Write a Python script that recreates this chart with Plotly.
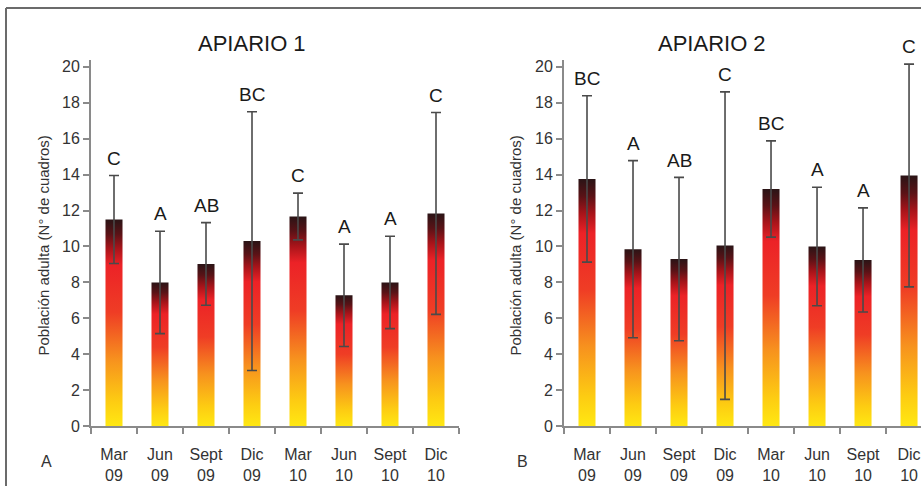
import plotly.graph_objects as go

# The captured picture is squeezed vertically (about 495 px of page -> 486 px),
# so the page is laid out 495 px tall and reference y positions are stretched.
W, H = 921, 495
SY = H / 486

categories = ["Mar<br>09", "Jun<br>09", "Sept<br>09", "Dic<br>09",
              "Mar<br>10", "Jun<br>10", "Sept<br>10", "Dic<br>10"]

ap1_mean = [11.5, 8.0, 9.03, 10.3, 11.67, 7.28, 8.0, 11.84]
ap1_err = [2.45, 2.85, 2.3, 7.2, 1.3, 2.85, 2.57, 5.62]
ap1_letters = ["C", "A", "AB", "BC", "C", "A", "A", "C"]

ap2_mean = [13.76, 9.85, 9.3, 10.05, 13.2, 10.0, 9.25, 13.95]
ap2_err = [4.63, 4.93, 4.55, 8.56, 2.68, 3.3, 2.9, 6.2]
ap2_letters = ["BC", "A", "AB", "C", "BC", "A", "A", "C"]

y_ticks = [0, 2, 4, 6, 8, 10, 12, 14, 16, 18, 20]

FONT = "Liberation Sans, Arial, sans-serif"
AXC = "#8a8a8a"
GRAD = [[0.0, "#FFE812"], [0.12, "#FDCC12"], [0.32, "#F7921E"],
        [0.55, "#EF3D25"], [0.78, "#EC2227"], [0.86, "#A8141A"],
        [0.93, "#5A1216"], [1.0, "#2A1416"]]
HALF = 0.185


def px(x):
    return x / W


def py(y):
    return (H - y * SY) / H


fig = go.Figure()


def add_panel(means, errs, letters, xa, ya):
    xref = "x" if xa == "x" else "x2"
    yref = "y" if ya == "y" else "y2"
    for i, v in enumerate(means):
        fig.add_trace(go.Scatter(
            x=[i - HALF, i + HALF, i + HALF, i - HALF, i - HALF],
            y=[0, 0, v, v, 0],
            mode="lines", line=dict(width=0), fill="toself",
            fillcolor="#EC2227",
            fillgradient=dict(type="vertical", colorscale=GRAD),
            xaxis=xa, yaxis=ya, hoverinfo="skip", showlegend=False))
    fig.add_trace(go.Scatter(
        x=list(range(len(means))), y=means, mode="markers",
        marker=dict(size=1, color="rgba(0,0,0,0)"),
        error_y=dict(type="data", array=errs, visible=True,
                     color="#4a4a4a", thickness=1.6, width=5),
        xaxis=xa, yaxis=ya, showlegend=False, hoverinfo="skip"))
    for i, (v, e, t) in enumerate(zip(means, errs, letters)):
        fig.add_annotation(x=i, y=v + e, xref=xref, yref=yref, text=t,
                           showarrow=False, xanchor="center",
                           yanchor="middle", yshift=17 * SY,
                           font=dict(size=19, color="#1a1a1a", family=FONT))


add_panel(ap1_mean, ap1_err, ap1_letters, "x", "y")
add_panel(ap2_mean, ap2_err, ap2_letters, "x2", "y2")

ydom = [py(426), py(58.8)]


def xaxis_cfg(dom, rng):
    return dict(domain=dom, range=rng, showline=True, linecolor=AXC,
                linewidth=2, showgrid=False, zeroline=False,
                tickmode="array", tickvals=list(range(len(categories))),
                ticktext=categories, ticks="outside", ticklen=13,
                tickcolor="rgba(0,0,0,0)",
                tickfont=dict(size=16, color="#333333", family=FONT),
                minor=dict(tickmode="array",
                           tickvals=[i - 0.5 for i in range(len(categories) + 1)],
                           ticks="outside", ticklen=6, tickwidth=2,
                           tickcolor=AXC, showgrid=False),
                fixedrange=True)


def yaxis_cfg(anchor):
    return dict(domain=ydom, range=[0, 20.4], anchor=anchor, showline=True,
                linecolor=AXC, linewidth=2, showgrid=False, zeroline=False,
                tickmode="array", tickvals=y_ticks, ticks="outside",
                ticklen=6, tickwidth=2, tickcolor=AXC,
                tickfont=dict(size=16, color="#333333", family=FONT),
                fixedrange=True)


fig.update_layout(
    width=W, height=H, margin=dict(l=0, r=0, t=0, b=0),
    paper_bgcolor="white", plot_bgcolor="white",
    xaxis=xaxis_cfg([px(91), px(459)], [-0.5, 7.5]),
    yaxis=yaxis_cfg("x"),
    xaxis2=dict(xaxis_cfg([px(564), 1.0], [-0.5, 7.26]), anchor="y2"),
    yaxis2=yaxis_cfg("x2"),
    showlegend=False, hovermode=False,
)

for txt, x in [("APIARIO 1", 252), ("APIARIO 2", 712)]:
    fig.add_annotation(x=px(x), y=py(43), xref="paper", yref="paper",
                       text=txt, showarrow=False, xanchor="center",
                       yanchor="middle",
                       font=dict(size=22, color="#1a1a1a", family=FONT))
for x in [43, 515]:
    fig.add_annotation(x=px(x), y=py(245), xref="paper", yref="paper",
                       text="Población adulta (N° de cuadros)", textangle=-90,
                       showarrow=False, xanchor="center", yanchor="middle",
                       font=dict(size=15, color="#333333", family=FONT))
for txt, x in [("A", 46), ("B", 522)]:
    fig.add_annotation(x=px(x), y=py(461), xref="paper", yref="paper",
                       text=txt, showarrow=False, xanchor="center",
                       yanchor="middle",
                       font=dict(size=16, color="#333333", family=FONT))

# outer frame (top and left edges)
fig.add_shape(type="line", xref="paper", yref="paper", x0=px(6), x1=1,
              y0=py(7), y1=py(7), line=dict(color="#6b6b6b", width=2))
fig.add_shape(type="line", xref="paper", yref="paper", x0=px(6), x1=px(6),
              y0=0, y1=py(7), line=dict(color="#6b6b6b", width=2))

fig.write_html(
    "out.html",
    config={"displayModeBar": False, "staticPlot": True},
    post_script=(
        "document.documentElement.style.margin='0';"
        "document.body.style.margin='0';"
        "document.documentElement.style.overflow='hidden';"
        "var g=document.getElementById('{plot_id}');"
        "g.style.position='fixed';g.style.left='0px';g.style.top='0px';"
    ),
)
